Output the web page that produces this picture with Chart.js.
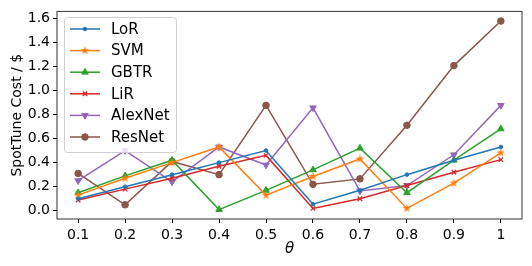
<!DOCTYPE html>
<html><head><meta charset="utf-8">
<script src="https://cdn.jsdelivr.net/npm/chart.js@4/dist/chart.umd.min.js"></script>
<style>html,body{margin:0;padding:0;background:#fff}#wrap{width:532px;height:266px}</style>
</head><body><div id="wrap"><canvas id="c" width="532" height="266"></canvas></div>
<script>
const thetas = [0.1,0.2,0.3,0.4,0.5,0.6,0.7,0.8,0.9,1];
const xTickLabels = ["0.1","0.2","0.3","0.4","0.5","0.6","0.7","0.8","0.9","1"];
const yTicks = [0,0.2,0.4,0.6,0.8,1.0,1.2,1.4,1.6];
const seriesNames = ["LoR","SVM","GBTR","LiR","AlexNet","ResNet"];
const LoR     = [0.10,0.20,0.30,0.40,0.50,0.055,0.17,0.30,0.42,0.53];
const SVM     = [0.13,0.27,0.40,0.53,0.13,0.285,0.43,0.02,0.23,0.48];
const GBTR    = [0.15,0.29,0.42,0.01,0.17,0.34,0.52,0.15,0.42,0.68];
const LiR     = [0.09,0.18,0.27,0.37,0.46,0.02,0.10,0.21,0.32,0.425];
const AlexNet = [0.25,0.50,0.24,0.53,0.38,0.855,0.165,0.21,0.465,0.875];
const ResNet  = [0.31,0.05,0.41,0.30,0.875,0.22,0.265,0.71,1.205,1.575];
const seriesValues = [LoR,SVM,GBTR,LiR,AlexNet,ResNet];
const colors = ["#1f77b4","#ff7f0e","#2ca02c","#d62728","#9467bd","#8c564b"];

function starCanvas(color, r){
  const s = Math.ceil(r*2+2), c = document.createElement('canvas');
  c.width = s; c.height = s;
  const g = c.getContext('2d'); g.fillStyle = color; g.beginPath();
  for(let i=0;i<10;i++){
    const rr = i%2===0 ? r : r*0.4;
    const a = -Math.PI/2 + i*Math.PI/5;
    const px = s/2 + rr*Math.cos(a), py = s/2 + rr*Math.sin(a);
    i===0 ? g.moveTo(px,py) : g.lineTo(px,py);
  }
  g.closePath(); g.fill(); return c;
}
const pointStyles = ['circle', starCanvas(colors[1],4.5), 'triangle', 'crossRot', 'triangle', 'circle'];
const pointRadii = [1.8, 4, 3.8, 3.2, 3.8, 3.3];
const pointRots = [0,0,0,0,180,0];

const datasets = seriesNames.map((n,i)=>({
  label:n,
  data: thetas.map((t,j)=>({x:t,y:seriesValues[i][j]})),
  borderColor: colors[i], backgroundColor: colors[i],
  borderWidth: 1.5, pointStyle: pointStyles[i], pointRadius: pointRadii[i],
  pointRotation: pointRots[i], pointBorderWidth: i===3?1.3:1,
  pointHoverRadius: pointRadii[i], tension: 0
}));

const frame = {
  id:'frame',
  afterDatasetsDraw(chart){
    const {ctx, chartArea:a} = chart;
    ctx.save();
    ctx.strokeStyle = '#333'; ctx.lineWidth = 1;
    ctx.strokeRect(a.left, a.top, a.right-a.left, a.bottom-a.top);
    // legend
    const bx=64, by=17, bw=112, bh=135;
    ctx.fillStyle='rgba(255,255,255,0.8)'; ctx.strokeStyle='#d0d0d0';
    ctx.beginPath(); ctx.roundRect(bx+0.5,by+0.5,bw,bh,3); ctx.fill(); ctx.stroke();
    ctx.font = '15px "DejaVu Sans"'; ctx.textBaseline='middle'; ctx.textAlign='left';
    chart.data.datasets.forEach((d,i)=>{
      const y = 29 + i*21.6;
      ctx.strokeStyle = d.borderColor; ctx.lineWidth = 1.5;
      ctx.beginPath(); ctx.moveTo(70,y); ctx.lineTo(100,y); ctx.stroke();
      ctx.fillStyle = d.backgroundColor; ctx.strokeStyle = d.borderColor; ctx.lineWidth = d.pointBorderWidth;
      Chart.helpers.drawPoint(ctx, {pointStyle:d.pointStyle, radius:d.pointRadius, borderWidth:d.pointBorderWidth, rotation:d.pointRotation}, 85, y);
      ctx.fillStyle = '#000';
      ctx.fillText(d.label, 111, y+1);
    });
    ctx.restore();
  }
};

new Chart(document.getElementById('c'), {
  type:'line',
  data:{datasets},
  options:{
    responsive:false, animation:false, devicePixelRatio:1,
    layout:{padding:{top:9,right:10,left:9,bottom:8}},
    plugins:{legend:{display:false}, tooltip:{enabled:false}},
    scales:{
      x:{type:'linear', min:0.055, max:1.045,
        afterBuildTicks(s){ s.ticks = thetas.map(v=>({value:v})); },
        afterFit(s){ s.height = 39; },
        ticks:{color:'#000', font:{family:'DejaVu Sans', size:14}, padding:4, maxRotation:0,
          callback:(v)=>{ const k = thetas.findIndex(t=>Math.abs(t-v)<1e-6); return k>=0?xTickLabels[k]:''; }},
        grid:{drawOnChartArea:false, tickLength:4, color:'#000'},
        border:{display:false},
        title:{display:true, text:'θ', color:'#000', font:{family:'DejaVu Sans', size:15, style:'italic'}, padding:{top:0,bottom:0}}
      },
      y:{type:'linear', min:-0.068, max:1.655,
        afterBuildTicks(s){ s.ticks = yTicks.map(v=>({value:v})); },
        afterFit(s){ s.width = 48; },
        ticks:{color:'#000', font:{family:'DejaVu Sans', size:14}, padding:3,
          callback:(v)=>v.toFixed(1)},
        grid:{drawOnChartArea:false, tickLength:4, color:'#000'},
        border:{display:false},
        title:{display:true, text:'SpotTune Cost / $', color:'#000', font:{family:'DejaVu Sans', size:14}, padding:{top:0,bottom:0}}
      }
    }
  },
  plugins:[frame]
});
</script></body></html>
